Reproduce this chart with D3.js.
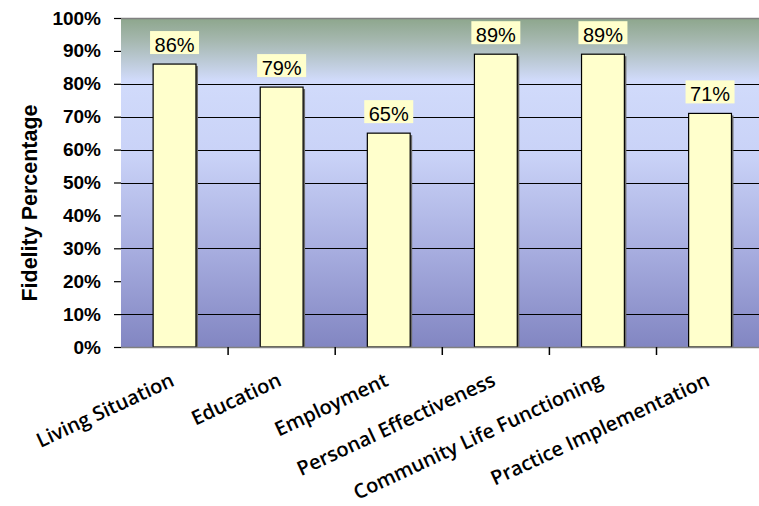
<!DOCTYPE html>
<html>
<head>
<meta charset="utf-8">
<script src="https://cdn.jsdelivr.net/npm/d3@7"></script>
<style>
  html, body { margin: 0; padding: 0; background: #fff; }
  svg { display: block; }
</style>
</head>
<body>
<svg id="chart" width="759" height="506"></svg>
<script>
// Fidelity percentage by domain
const categories = [
  "Living Situation",
  "Education",
  "Employment",
  "Personal Effectiveness",
  "Community Life Functioning",
  "Practice Implementation"
];
const fidelity = [0.86, 0.79, 0.65, 0.89, 0.89, 0.71];
const yTicks = [0, 0.1, 0.2, 0.3, 0.4, 0.5, 0.6, 0.7, 0.8, 0.9, 1.0];
const gridValues = [0.1, 0.3, 0.5, 0.6, 0.7, 0.8];
const yTitle = "Fidelity Percentage";

const svg = d3.select("#chart");
const plot = { left: 121, top: 18, bottom: 347, right: 763.6 };

const x = d3.scaleBand().domain(categories).range([plot.left, plot.right]).padding(0);
const y = d3.scaleLinear().domain([0, 1]).range([plot.bottom, plot.top]);
const pct = d3.format(".0%");

// background gradient of the plot area
const defs = svg.append("defs");
const grad = defs.append("linearGradient")
  .attr("id", "bg").attr("x1", 0).attr("y1", 0).attr("x2", 0).attr("y2", 1);
[
  [0, "#8da68c"],
  [0.07, "#a6b8b0"],
  [0.19, "#d1dbfb"],
  [0.42, "#c9d2f7"],
  [0.7, "#a8aee0"],
  [1, "#8286c2"]
].forEach(([o, c]) => grad.append("stop").attr("offset", o).attr("stop-color", c));

svg.append("rect")
  .attr("x", plot.left).attr("y", plot.top)
  .attr("width", plot.right - plot.left).attr("height", plot.bottom - plot.top)
  .attr("fill", "url(#bg)");

// gridlines
svg.append("g").selectAll("line").data(gridValues).join("line")
  .attr("x1", plot.left).attr("x2", plot.right)
  .attr("y1", d => Math.round(y(d)) + 0.5).attr("y2", d => Math.round(y(d)) + 0.5)
  .attr("stroke", "#000").attr("stroke-width", 1);

// top border
svg.append("line")
  .attr("x1", plot.left).attr("x2", plot.right)
  .attr("y1", plot.top + 0.5).attr("y2", plot.top + 0.5)
  .attr("stroke", "#808080").attr("stroke-width", 1.5);

// bars
const barW = x.bandwidth() * 0.4;
const bars = svg.append("g");
const data = categories.map((c, i) => ({ c, v: fidelity[i] }));

bars.selectAll("rect.shadow").data(data).join("rect")
  .attr("class", "shadow")
  .attr("x", d => x(d.c) + (x.bandwidth() - barW) / 2 + 2)
  .attr("y", d => y(d.v) + 2)
  .attr("width", barW)
  .attr("height", d => y(0) - y(d.v) - 2)
  .attr("fill", "#6a6a6a");

bars.selectAll("rect.bar").data(data).join("rect")
  .attr("class", "bar")
  .attr("x", d => x(d.c) + (x.bandwidth() - barW) / 2)
  .attr("y", d => y(d.v))
  .attr("width", barW)
  .attr("height", d => y(0) - y(d.v))
  .attr("fill", "#ffffcc")
  .attr("stroke", "#000").attr("stroke-width", 1.2);

// bottom axis line
svg.append("line")
  .attr("x1", plot.left).attr("x2", plot.right)
  .attr("y1", plot.bottom + 0.5).attr("y2", plot.bottom + 0.5)
  .attr("stroke", "#808080").attr("stroke-width", 1.5);

// value labels in boxes
const labels = svg.append("g").attr("font-family", "Arial, 'Liberation Sans', sans-serif")
  .attr("font-size", 20);
data.forEach(d => {
  const cx = x(d.c) + x.bandwidth() / 2;
  const base = y(d.v) - 12.5;
  const g = labels.append("g");
  g.append("rect")
    .attr("x", cx - 24.5).attr("y", base - 20.5)
    .attr("width", 49).attr("height", 23)
    .attr("fill", "#ffffcc");
  g.append("text")
    .attr("x", cx).attr("y", base)
    .attr("text-anchor", "middle").attr("fill", "#000")
    .text(pct(d.v));
});

// y axis ticks and labels
const yAxis = d3.axisLeft(y).tickValues(yTicks).tickFormat(pct).tickSize(7).tickPadding(13);
const ya = svg.append("g").attr("transform", `translate(${plot.left},0)`).call(yAxis);
ya.select(".domain").remove();
ya.selectAll(".tick line").attr("stroke", "#000").attr("stroke-width", 1.2);
ya.selectAll(".tick text")
  .attr("font-family", "Arial, 'Liberation Sans', sans-serif")
  .attr("font-weight", "bold").attr("font-size", 19).attr("fill", "#000");

// x axis tick marks between categories
const boundaries = categories.slice(1).map(c => x(c));
svg.append("g").selectAll("line").data(boundaries).join("line")
  .attr("x1", d => d).attr("x2", d => d)
  .attr("y1", plot.bottom).attr("y2", plot.bottom + 8)
  .attr("stroke", "#000").attr("stroke-width", 1.5);

// category labels, rotated
svg.append("g").selectAll("text").data(categories).join("text")
  .attr("transform", c => `translate(${x(c) + x.bandwidth() / 2 + 1},385) rotate(-25)`)
  .attr("text-anchor", "end")
  .attr("font-family", "'Open Sans', sans-serif")
  .attr("font-weight", 600).attr("font-size", 20).attr("fill", "#000")
  .text(c => c);

// y axis title
svg.append("text")
  .attr("transform", "translate(37,203) rotate(-90)")
  .attr("text-anchor", "middle")
  .attr("font-family", "Arial, 'Liberation Sans', sans-serif")
  .attr("font-weight", "bold").attr("font-size", 21.5).attr("fill", "#000")
  .text(yTitle);
</script>
</body>
</html>
